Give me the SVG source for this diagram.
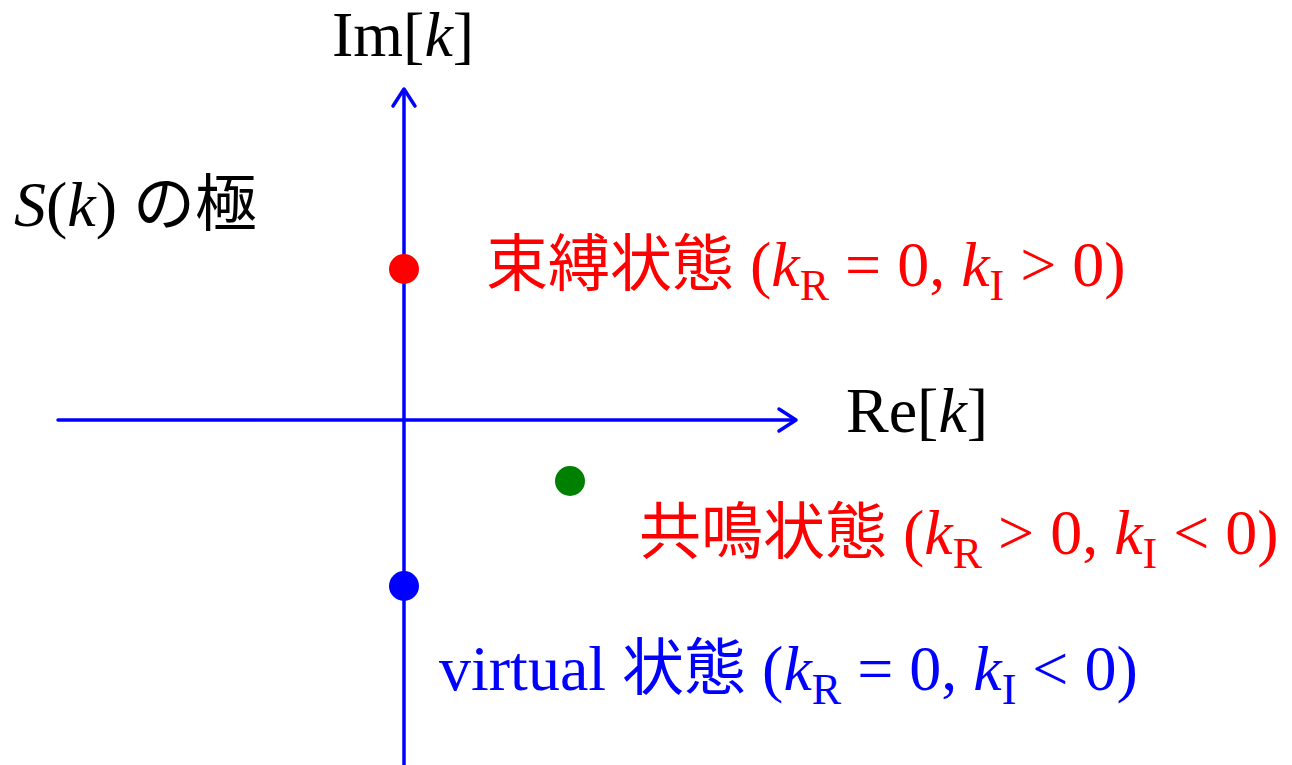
<svg xmlns="http://www.w3.org/2000/svg" width="1292" height="765" viewBox="0 0 1292 765">
<style>
.t{font-family:"Liberation Serif","Times New Roman","Noto Sans CJK JP",serif;font-size:64px}
.j{font-family:"Noto Sans CJK JP","Noto Sans CJK SC",sans-serif;font-size:62px}
.i{font-style:italic}
.s{font-size:44px}
.ax{stroke:#0000FF;stroke-width:3.5;fill:none;stroke-linecap:round;stroke-linejoin:round}
</style>
<rect width="1292" height="765" fill="#fff"/>
<g id="connectors">
<line class="ax" x1="404" y1="765" x2="404" y2="90"/>
<polyline class="ax" points="393,106 404,89 415,106"/>
<line class="ax" x1="58" y1="420" x2="795" y2="420"/>
<polyline class="ax" points="779,409 796,420 779,431"/>
</g>
<g id="label-im"><text class="t" x="332" y="56">Im[<tspan class="i">k</tspan>]</text></g>
<g id="label-re"><text class="t" x="846" y="432">Re[<tspan class="i">k</tspan>]</text></g>
<g id="title"><text x="14" y="226"><tspan class="t i">S</tspan><tspan class="t">(</tspan><tspan class="t i">k</tspan><tspan class="t">) </tspan><tspan class="j">の極</tspan></text></g>
<g id="bound"><circle cx="404" cy="269" r="15" fill="#FF0000"/>
<text x="486" y="286" fill="#FF0000"><tspan class="j">束縛状態</tspan><tspan class="t"> (</tspan><tspan class="t i">k</tspan><tspan class="t s" dy="14">R</tspan><tspan class="t" dy="-14"> = 0, </tspan><tspan class="t i">k</tspan><tspan class="t s" dy="14">I</tspan><tspan class="t" dy="-14"> &gt; 0)</tspan></text></g>
<g id="resonance"><circle cx="570" cy="481" r="15" fill="#008000"/>
<text x="639" y="554" fill="#FF0000"><tspan class="j">共鳴状態</tspan><tspan class="t"> (</tspan><tspan class="t i">k</tspan><tspan class="t s" dy="14">R</tspan><tspan class="t" dy="-14"> &gt; 0, </tspan><tspan class="t i">k</tspan><tspan class="t s" dy="14">I</tspan><tspan class="t" dy="-14"> &lt; 0)</tspan></text></g>
<g id="virtual"><circle cx="404" cy="586" r="15" fill="#0000FF"/>
<text x="439" y="690" fill="#0000FF"><tspan class="t">virtual </tspan><tspan class="j">状態</tspan><tspan class="t"> (</tspan><tspan class="t i">k</tspan><tspan class="t s" dy="14">R</tspan><tspan class="t" dy="-14"> = 0, </tspan><tspan class="t i">k</tspan><tspan class="t s" dy="14">I</tspan><tspan class="t" dy="-14"> &lt; 0)</tspan></text></g>
</svg>
